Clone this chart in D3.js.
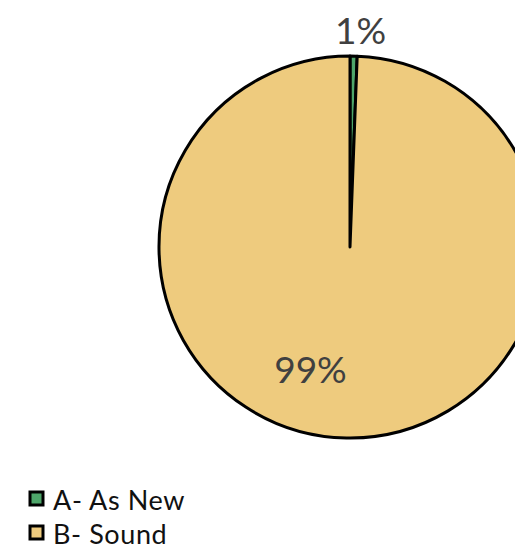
<!DOCTYPE html>
<html>
<head>
<meta charset="utf-8">
<script src="https://cdn.jsdelivr.net/npm/d3@7"></script>
<style>
  body { margin: 0; background: #fff; }
</style>
</head>
<body>
<div id="chart"></div>
<script>
// chart data
const categories = ["A- As New", "B- Sound"]
const values = [0.6, 99.4]
const colors = ["#4ea66a", "#eecb7e"]

function main(){
  const width = 515
  const height = 549
  const cx = 350, cy = 247, radius = 191

  const svg = d3.select("#chart")
    .append("svg")
    .attr("width", width)
    .attr("height", height)

  const data = categories.map((c, i) => ({ name: c, value: values[i], color: colors[i] }))
  const total = d3.sum(values)

  const pie = d3.pie().sort(null).value(d => d.value)
  const arcs = pie(data)
  const arc = d3.arc().innerRadius(0).outerRadius(radius)

  const g = svg.append("g").attr("transform", `translate(${cx},${cy})`)

  g.selectAll("path")
    .data(arcs)
    .join("path")
    .attr("d", arc)
    .attr("fill", d => d.data.color)
    .attr("stroke", "#000")
    .attr("stroke-width", 3)
    .attr("stroke-linejoin", "round")

  // label placement: small slice outside, big slice inside (like the original)
  const labelRadius = [radius + 27, 128]
  const labelAngle = [a => (a.startAngle + a.endAngle) / 2 + 0.03, a => Math.PI * 1.1]
  g.selectAll("text.lbl")
    .data(arcs)
    .join("text")
    .attr("class", "lbl")
    .attr("x", (d, i) => Math.sin(labelAngle[i](d)) * labelRadius[i])
    .attr("y", (d, i) => -Math.cos(labelAngle[i](d)) * labelRadius[i])
    .attr("text-anchor", "middle")
    .attr("dominant-baseline", "central")
    .attr("font-family", "'Gill Sans', Lato, sans-serif")
    .attr("font-size", 37)
    .attr("fill", "#404040")
    .text(d => Math.round(d.data.value / total * 100) + "%")

  // legend
  const legend = svg.append("g").attr("transform", "translate(30,492)")
  const row = legend.selectAll("g")
    .data(data)
    .join("g")
    .attr("transform", (d, i) => `translate(0,${i * 34})`)
  row.append("rect")
    .attr("width", 13)
    .attr("height", 13)
    .attr("fill", d => d.color)
    .attr("stroke", "#000")
    .attr("stroke-width", 3)
  row.append("text")
    .attr("x", 23)
    .attr("y", 7)
    .attr("dominant-baseline", "central")
    .attr("font-family", "'Gill Sans', Lato, sans-serif")
    .attr("font-size", 27)
    .attr("letter-spacing", 0.6)
    .attr("fill", "#111")
    .text(d => d.name)
}
main();
</script>
</body>
</html>
